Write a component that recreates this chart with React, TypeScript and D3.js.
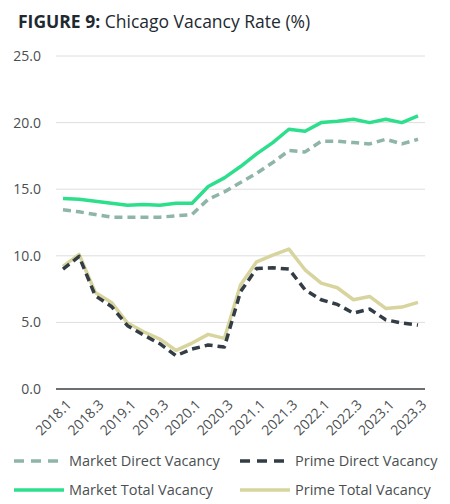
import * as d3 from "d3";

const quarters = [
  "2018.1", "2018.2", "2018.3", "2018.4",
  "2019.1", "2019.2", "2019.3", "2019.4",
  "2020.1", "2020.2", "2020.3", "2020.4",
  "2021.1", "2021.2", "2021.3", "2021.4",
  "2022.1", "2022.2", "2022.3", "2022.4",
  "2023.1", "2023.2", "2023.3",
];

const marketDirect = [
  13.45, 13.3, 13.1, 12.9, 12.9, 12.9, 12.9, 13.0, 13.1, 14.25, 14.8, 15.5,
  16.2, 17.0, 17.9, 17.8, 18.6, 18.6, 18.5, 18.4, 18.75, 18.4, 18.75,
];
const marketTotal = [
  14.3, 14.25, 14.1, 13.95, 13.8, 13.85, 13.8, 13.95, 13.95, 15.2, 15.85, 16.7,
  17.65, 18.5, 19.5, 19.35, 20.0, 20.1, 20.25, 20.0, 20.25, 20.0, 20.5,
];
const primeDirect = [
  9.0, 9.95, 7.0, 6.2, 4.75, 4.05, 3.4, 2.5, 3.0, 3.3, 3.15, 7.3,
  9.05, 9.1, 9.0, 7.45, 6.7, 6.35, 5.7, 6.0, 5.2, 4.95, 4.8,
];
const primeTotal = [
  9.2, 10.1, 7.25, 6.5, 4.95, 4.3, 3.75, 2.9, 3.45, 4.1, 3.8, 7.8,
  9.55, 10.05, 10.5, 8.95, 7.95, 7.6, 6.7, 6.95, 6.05, 6.15, 6.5,
];

const yTicks = [0, 5, 10, 15, 20, 25];

const series = [
  { name: "Market Direct Vacancy", values: marketDirect, color: "#8fb5a8", dash: "8,5" },
  { name: "Prime Direct Vacancy", values: primeDirect, color: "#323d45", dash: "8,5" },
  { name: "Market Total Vacancy", values: marketTotal, color: "#2ddf8c", dash: null },
  { name: "Prime Total Vacancy", values: primeTotal, color: "#d7d49e", dash: null },
];

const W = 450;
const H = 504;
const FONT = "'Open Sans', 'Noto Sans', sans-serif";

export default function App() {
  const left = 56;
  const right = 425;
  const top = 56;
  const bottom = 389;

  const x = d3
    .scalePoint<string>()
    .domain(quarters)
    .range([63, 418]);
  const y = d3.scaleLinear().domain([0, 25]).range([bottom, top]);

  const line = d3
    .line<number>()
    .x((_, i) => x(quarters[i])!)
    .y((d) => y(d));

  // draw order: primes first, market total on top
  const drawOrder = [series[3], series[1], series[0], series[2]];

  const legendPos = [
    { x: 14, y: 461 },
    { x: 240, y: 461 },
    { x: 14, y: 490 },
    { x: 240, y: 490 },
  ];

  return (
    <svg
      width={W}
      height={H}
      style={{ position: "absolute", left: 0, top: 0, background: "#fff" }}
      fontFamily={FONT}
    >
      <text x={18} y={28} fontSize={17.5} fill="#1e2a30">
        <tspan fontWeight={700}>FIGURE 9:</tspan>
        <tspan> Chicago Vacancy Rate (%)</tspan>
      </text>

      {/* gridlines + y labels */}
      {yTicks.map((t) => (
        <g key={t}>
          <line
            x1={left}
            x2={right}
            y1={y(t)}
            y2={y(t)}
            stroke={t === 0 ? "#3a3f42" : "#dedede"}
            strokeWidth={t === 0 ? 1.6 : 1}
          />
          <text
            x={41}
            y={y(t)}
            dy="0.35em"
            textAnchor="end"
            fontSize={14}
            fill="#4a4f52"
          >
            {t.toFixed(1)}
          </text>
        </g>
      ))}

      {/* x labels, every other quarter */}
      {quarters
        .filter((_, i) => i % 2 === 0)
        .map((q) => (
          <text
            key={q}
            transform={`translate(${x(q)! + 6},${bottom + 13}) rotate(-45)`}
            textAnchor="end"
            dy="0.35em"
            fontSize={14}
            fill="#4a4f52"
          >
            {q}
          </text>
        ))}

      {drawOrder.map((s) => (
        <path
          key={s.name}
          d={line(s.values) ?? ""}
          fill="none"
          stroke={s.color}
          strokeWidth={3.5}
          strokeDasharray={s.dash ?? undefined}
          strokeLinejoin="round"
        />
      ))}

      {/* legend */}
      {series.map((s, i) => {
        const p = legendPos[i];
        return (
          <g key={s.name} transform={`translate(${p.x},${p.y})`}>
            <line
              x1={0}
              x2={s.dash ? 48 : 50}
              y1={0}
              y2={0}
              stroke={s.color}
              strokeWidth={3.5}
              strokeDasharray={s.dash ? "10,7" : undefined}
            />
            <text x={55} y={0} dy="0.35em" fontSize={14.5} fill="#4a4f52">
              {s.name}
            </text>
          </g>
        );
      })}
    </svg>
  );
}
